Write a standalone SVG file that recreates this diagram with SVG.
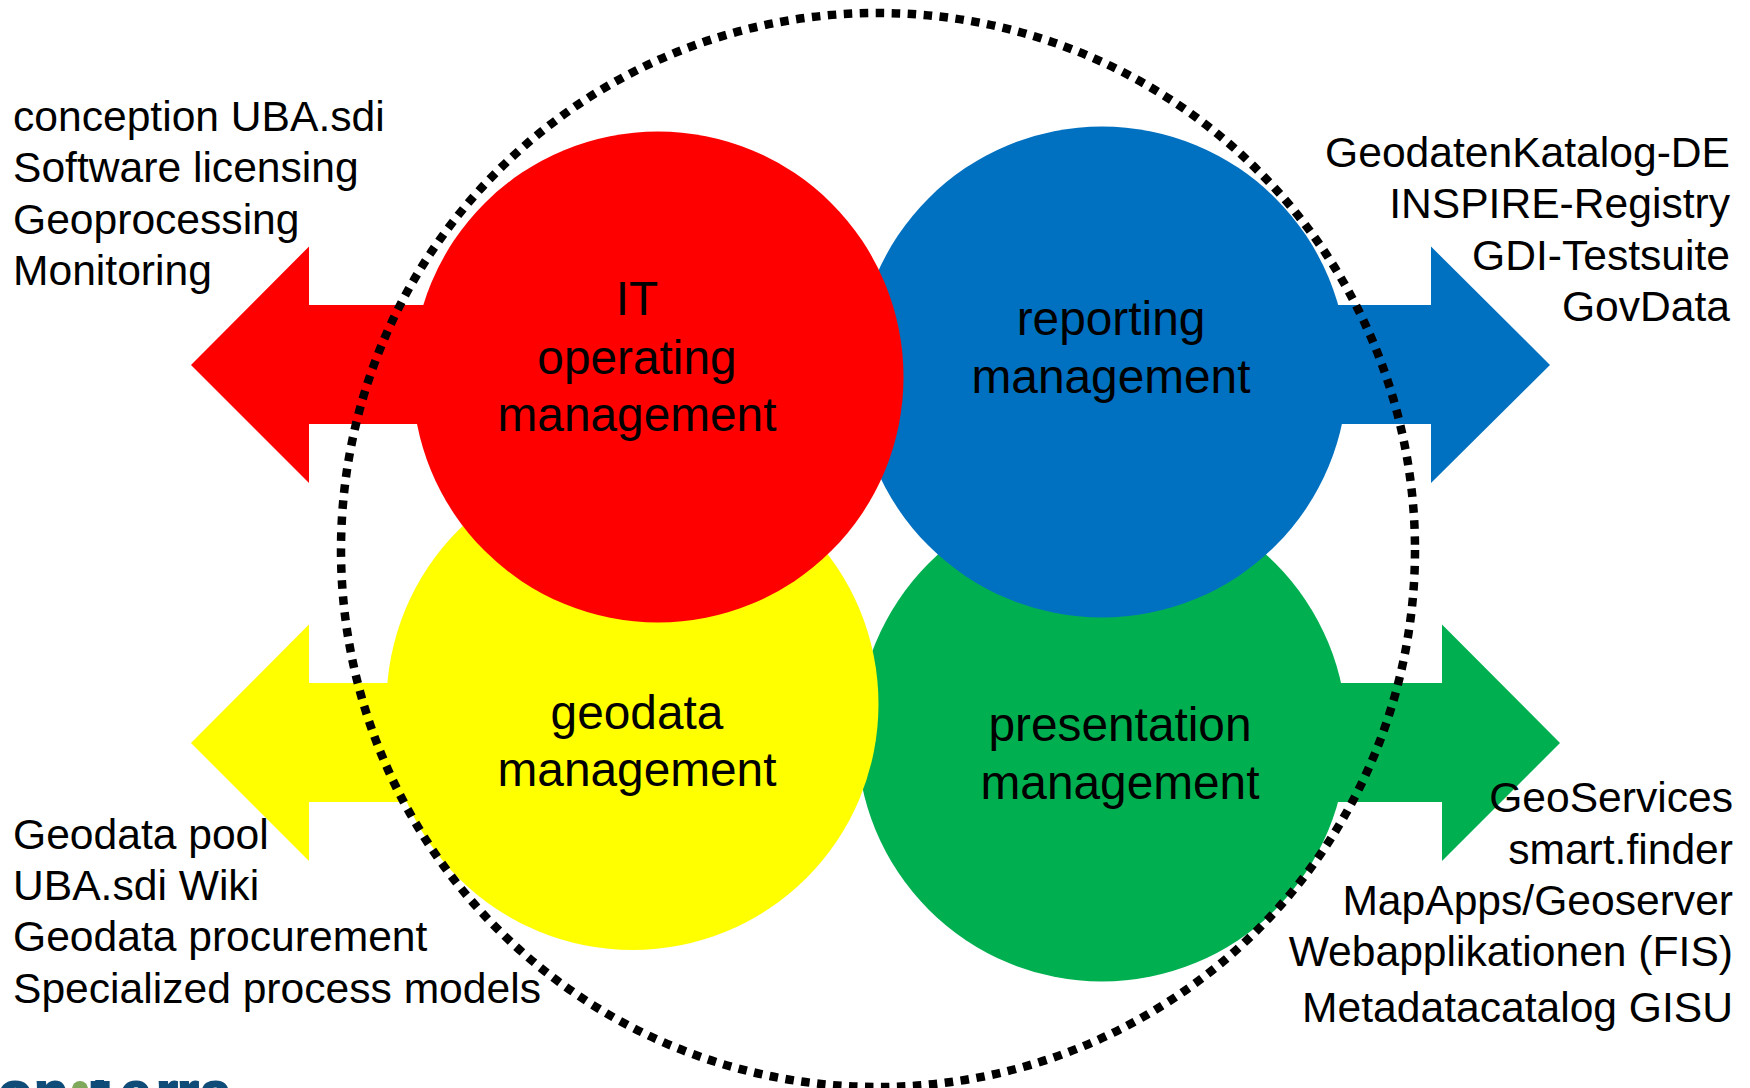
<svg xmlns="http://www.w3.org/2000/svg" width="1750" height="1088" viewBox="0 0 1750 1088">
<defs><clipPath id="logoclip"><rect x="0" y="1080" width="240" height="8"/></clipPath></defs>
<style>
text{font-family:"Liberation Sans",Arial,sans-serif;font-size:42.6px;fill:#000}
.c{font-size:47.8px;text-anchor:middle}
.r{text-anchor:end}
</style>
<rect width="1750" height="1088" fill="#fff"/>
<g id="connectors">
<polygon points="191,365 309,246.500 309,305 430,305 430,424 309,424 309,483" fill="#f00"/>
<polygon points="191,743 309,624.500 309,683 410,683 410,802 309,802 309,861" fill="#ff0"/>
<polygon points="1550,365 1431,246.500 1431,305 1330,305 1330,424 1431,424 1431,483" fill="#0070c0"/>
<polygon points="1560,743 1442,624.500 1442,683 1330,683 1330,802 1442,802 1442,861" fill="#00b050"/>
</g>
<g id="presentation"><circle cx="1102" cy="736.500" r="245" fill="#00b050"/></g>
<g id="geodata"><circle cx="632.500" cy="704" r="246" fill="#ff0"/></g>
<g id="reporting"><circle cx="1102" cy="372" r="245.500" fill="#0070c0"/></g>
<g id="it"><circle cx="658" cy="377" r="245.500" fill="#f00"/></g>
<g id="ring"><circle cx="878" cy="550" r="537" fill="none" stroke="#000" stroke-width="8.500" stroke-dasharray="8.500 7.500"/></g>
<g id="logo" clip-path="url(#logoclip)">
<text x="-2 34 91 120 156 177 200" y="1111" style="font-size:56px;font-weight:bold;fill:#0f4c78;stroke:#0f4c78;stroke-width:2">onterra</text>
<circle cx="80" cy="1089" r="8" fill="#7fa85a"/>
</g>
<g id="labels">
<text class="c" x="637" y="315">IT</text>
<text class="c" x="637" y="374">operating</text>
<text class="c" x="637" y="431">management</text>
<text class="c" x="1111" y="335">reporting</text>
<text class="c" x="1111" y="393">management</text>
<text class="c" x="637" y="729">geodata</text>
<text class="c" x="637" y="786">management</text>
<text class="c" x="1120" y="741">presentation</text>
<text class="c" x="1120" y="799">management</text>
<text x="13" y="131">conception UBA.sdi</text>
<text x="13" y="182">Software licensing</text>
<text x="13" y="234">Geoprocessing</text>
<text x="13" y="285">Monitoring</text>
<text x="13" y="849">Geodata pool</text>
<text x="13" y="900">UBA.sdi Wiki</text>
<text x="13" y="951">Geodata procurement</text>
<text x="13" y="1003">Specialized process models</text>
<text class="r" x="1730" y="167">GeodatenKatalog-DE</text>
<text class="r" x="1730" y="218">INSPIRE-Registry</text>
<text class="r" x="1730" y="270">GDI-Testsuite</text>
<text class="r" x="1730" y="321">GovData</text>
<text class="r" x="1733" y="812">GeoServices</text>
<text class="r" x="1733" y="864">smart.finder</text>
<text class="r" x="1733" y="915">MapApps/Geoserver</text>
<text class="r" x="1733" y="966">Webapplikationen (FIS)</text>
<text class="r" x="1733" y="1022">Metadatacatalog GISU</text>
</g>
</svg>
